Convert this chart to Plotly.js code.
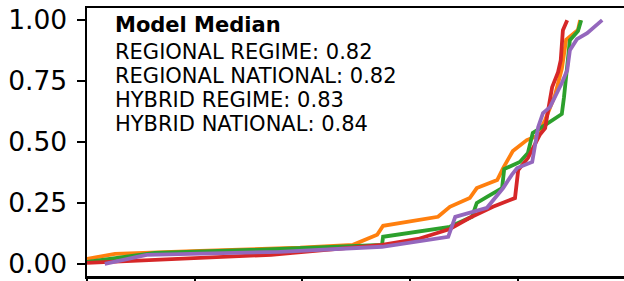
<!DOCTYPE html>
<html>
<head>
<meta charset="utf-8">
<script src="https://cdn.plot.ly/plotly-3.0.1.min.js"></script>
<style>
html, body { margin: 0; padding: 0; overflow: hidden; background: #fff; }
#chart { width: 700px; height: 281px; }
</style>
</head>
<body>
<div id="chart"></div>
<script>
// Series values (x in axis units, ticks every 0.2)
const orangeX = [0.000, 0.052, 0.210, 0.396, 0.494, 0.539, 0.550, 0.652, 0.674, 0.711, 0.724, 0.762, 0.773, 0.791, 0.817, 0.836, 0.851, 0.869, 0.882, 0.890, 0.912, 0.916];
const orangeY = [0.020, 0.041, 0.053, 0.066, 0.078, 0.119, 0.156, 0.193, 0.234, 0.270, 0.311, 0.344, 0.393, 0.463, 0.508, 0.525, 0.590, 0.690, 0.800, 0.920, 0.960, 1.000];

const greenX = [0.000, 0.126, 0.303, 0.548, 0.550, 0.674, 0.715, 0.724, 0.743, 0.771, 0.775, 0.804, 0.819, 0.828, 0.845, 0.882, 0.886, 0.892, 0.897, 0.912, 0.918];
const greenY = [0.008, 0.045, 0.057, 0.078, 0.111, 0.152, 0.193, 0.250, 0.275, 0.311, 0.389, 0.418, 0.455, 0.537, 0.561, 0.615, 0.684, 0.795, 0.918, 0.955, 1.000];

const redX = [0.000, 0.117, 0.342, 0.548, 0.615, 0.674, 0.711, 0.754, 0.795, 0.801, 0.819, 0.841, 0.851, 0.856, 0.864, 0.875, 0.880, 0.884, 0.892];
const redY = [0.004, 0.016, 0.037, 0.078, 0.102, 0.143, 0.189, 0.234, 0.270, 0.385, 0.434, 0.529, 0.557, 0.623, 0.725, 0.787, 0.836, 0.959, 1.000];

const purpleX = [0.033, 0.111, 0.358, 0.548, 0.671, 0.684, 0.743, 0.754, 0.773, 0.789, 0.799, 0.827, 0.838, 0.847, 0.860, 0.882, 0.892, 0.897, 0.910, 0.929, 0.957];
const purpleY = [0.000, 0.037, 0.049, 0.070, 0.111, 0.193, 0.230, 0.262, 0.311, 0.365, 0.393, 0.418, 0.561, 0.619, 0.643, 0.742, 0.795, 0.877, 0.922, 0.947, 1.000];

const seriesNames = ["REGIONAL REGIME", "REGIONAL NATIONAL", "HYBRID REGIME", "HYBRID NATIONAL"];
const medians = [0.82, 0.82, 0.83, 0.84];
const colors = ["#ff7f0e", "#2ca02c", "#d62728", "#9467bd"];
const yTicks = [0, 0.25, 0.5, 0.75, 1.0];
const yTickText = ["0.00", "0.25", "0.50", "0.75", "1.00"];
const xTicks = [0, 0.2, 0.4, 0.6, 0.8, 1.0];

const xs = [orangeX, greenX, redX, purpleX];
const ys = [orangeY, greenY, redY, purpleY];

const traces = xs.map((x, i) => ({
  x: x, y: ys[i], type: "scatter", mode: "lines", name: seriesNames[i],
  line: { color: colors[i], width: 3.8 }, hoverinfo: "skip"
}));

const FONT = "DejaVu Sans, sans-serif";
const L = 87, T = 8, B = 5, W = 700, H = 281;
const plotW = W - L, plotH = H - T - B;
const pxPerUnit = 538.35;
const px = v => (v - L) / plotW;
const py = v => (H - B - v) / plotH;

const annLines = ["<b>Model Median</b>"].concat(seriesNames.map((n, i) => n + ": " + medians[i].toFixed(2)));
const annY = [25, 52, 76, 100, 124];
const annotations = annLines.map((t, i) => ({
  text: t, xref: "paper", yref: "paper", x: px(113), y: py(annY[i]),
  xanchor: "left", yanchor: "middle", showarrow: false,
  font: { family: FONT, size: 21, color: "#000" }
}));

const layout = {
  width: W, height: H,
  margin: { l: L, r: 0, t: T, b: B, pad: 0 },
  paper_bgcolor: "#fff", plot_bgcolor: "#fff",
  showlegend: false,
  xaxis: {
    range: [0, plotW / pxPerUnit], showgrid: false, zeroline: false,
    tickvals: xTicks, showticklabels: false, ticks: "outside", ticklen: 9, tickwidth: 2, tickcolor: "#000",
    showline: true, linecolor: "#000", linewidth: 2.5, mirror: true
  },
  yaxis: {
    range: [-0.05, 1.05], showgrid: false, zeroline: false,
    tickvals: yTicks, ticktext: yTickText, ticks: "outside", ticklen: 8, tickwidth: 2, tickcolor: "#000",
    showline: true, linecolor: "#000", linewidth: 2.5, mirror: true,
    ticklabelstandoff: 4,
    tickfont: { family: FONT, size: 26.5, color: "#000" }
  },
  annotations: annotations
};

Plotly.newPlot("chart", traces, layout, { staticPlot: true, displayModeBar: false });
</script>
</body>
</html>
